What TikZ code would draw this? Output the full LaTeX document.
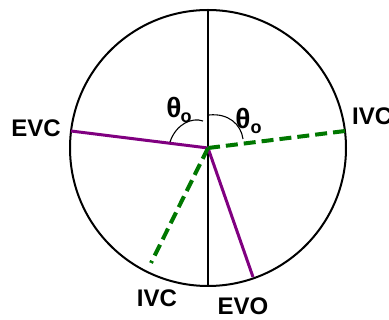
\documentclass[tikz,border=0pt]{standalone}
\usepackage{fontspec}
\setmainfont{Liberation Sans}
\definecolor{evpurple}{RGB}{128,0,128}
\definecolor{ivgreen}{RGB}{0,120,0}
\begin{document}
\begin{tikzpicture}[x=1pt,y=-1pt,
  lbl/.style={font=\fontsize{24}{24}\selectfont\bfseries, inner sep=0pt},
  theta/.style={font=\fontsize{28}{28}\selectfont\bfseries, inner sep=0pt},
  sub/.style={font=\fontsize{18}{18}\selectfont\bfseries, inner sep=0pt},
  evline/.style={evpurple, line width=3pt},
  ivline/.style={ivgreen, line width=4pt, dash pattern=on 12pt off 6pt},
  anglearc/.style={black, line width=1.1pt}]
\useasboundingbox (0,0) rectangle (389,320);
\coordinate (c) at (208,148);
\node[draw, circle, line width=2pt, minimum size=276pt, inner sep=0pt] (circ) at (c) {};
\coordinate (top) at (208,10);
\coordinate (bot) at (208,286);
\draw[line width=1.4pt] (top) -- (bot);
\coordinate (evc) at (71,131);
\coordinate (evo) at (253,277);
\coordinate (ivcr) at (345,131);
\coordinate (ivcb) at (151,263);
\draw[evline] (c) -- (evc);
\draw[evline] (c) -- (evo);
\draw[ivline] (c) -- (ivcr);
\draw[ivline] (c) -- (ivcb);
\coordinate (la1) at (170,142);
\coordinate (la2) at (203,121);
\draw[anglearc] (la1) .. controls (176,124) and (192,117) .. (la2);
\coordinate (ra1) at (209,115);
\coordinate (ra2) at (243,139);
\draw[anglearc] (ra1) .. controls (228,113) and (241,124) .. (ra2);
\node[theta] (t1) at (174,108) {θ};
\node[sub] (o1) at (186,118) {o};
\node[theta] (t2) at (243,119) {θ};
\node[sub] (o2) at (256,129) {o};
\node[lbl] (levc) at (36,128) {EVC};
\node[lbl, anchor=west] (livcr) at (352,116) {IVC};
\node[lbl] (livcb) at (157,298) {IVC};
\node[lbl] (levo) at (243,306) {EVO};
\end{tikzpicture}
\end{document}
